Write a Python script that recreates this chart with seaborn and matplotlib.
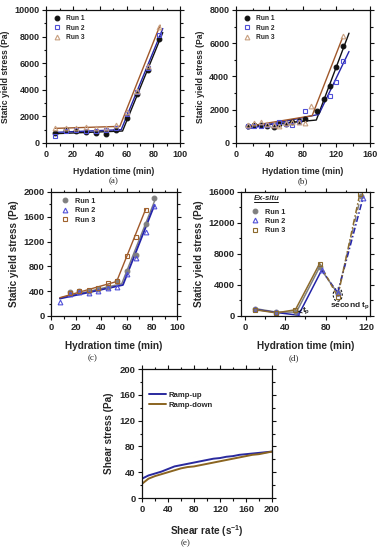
import matplotlib
matplotlib.use("Agg")
import matplotlib.pyplot as plt
from matplotlib.patches import Ellipse
from matplotlib.ticker import MultipleLocator
import seaborn as sns

# ---- panel (a) ----
a_x = [7, 15, 22, 30, 37, 45, 52, 60, 68, 76, 84]
a_run1 = [750, 1000, 900, 800, 750, 680, 1000, 1850, 3700, 5450, 7800]
a_run2 = [550, 900, 950, 900, 900, 950, 1100, 2200, 3800, 5600, 8100]
a_run3 = [1100, 1100, 1150, 1200, 1100, 1150, 1350, 2300, 3900, 5800, 8700]
a_fit1_x, a_fit1_y = [7, 57, 87], [700, 900, 8300]
a_fit2_x, a_fit2_y = [7, 56, 87], [800, 1000, 8600]
a_fit3_x, a_fit3_y = [7, 55, 85], [1100, 1250, 8850]

# ---- panel (b) ----
b_x1 = [14, 22, 30, 37, 45, 52, 60, 67, 75, 82, 97, 105, 112, 120, 128]
b_run1 = [1050, 1100, 1100, 1050, 980, 1150, 1150, 1280, 1350, 1450, 1950, 2650, 3450, 4550, 5850]
b_x2 = [14, 22, 30, 37, 45, 52, 60, 67, 75, 82, 112, 120, 128]
b_run2 = [1050, 1000, 1050, 1100, 1100, 1250, 1150, 1060, 1250, 1900, 2800, 3650, 4900]
b_x3 = [14, 22, 30, 37, 45, 52, 60, 67, 75, 82, 90, 128]
b_run3 = [1100, 1200, 1250, 1150, 1100, 1000, 1200, 1250, 1250, 1200, 2250, 6450]
b_fit1_x, b_fit1_y = [14, 96, 135], [1000, 1380, 6600]
b_fit2_x, b_fit2_y = [14, 99, 135], [850, 1720, 5500]
b_fit3_x, b_fit3_y = [14, 91, 127], [1000, 1640, 6300]

# ---- panel (c) ----
c_x1 = [15, 22, 30, 37, 45, 52, 60, 67, 75, 82]
c_run1 = [380, 400, 410, 430, 460, 570, 730, 980, 1480, 1910]
c_x2 = [7, 15, 22, 30, 37, 45, 52, 60, 67, 75, 82]
c_run2 = [230, 350, 390, 365, 410, 445, 475, 670, 935, 1350, 1780]
c_x3 = [15, 22, 30, 37, 45, 52, 60, 67, 75]
c_run3 = [370, 400, 420, 455, 530, 570, 970, 1270, 1710]
c_fit1_x, c_fit1_y = [7, 56, 82], [290, 520, 1850]
c_fit2_x, c_fit2_y = [7, 57, 82], [280, 500, 1790]
c_fit3_x, c_fit3_y = [7, 52, 75], [295, 555, 1720]

# ---- panel (d) ----
d_x1 = [10, 31, 51, 74, 92, 115]
d_run1 = [950, 500, 500, 6300, 2900, 15500]
d_x2 = [10, 31, 53, 76, 92, 117]
d_run2 = [850, 450, 100, 5900, 3000, 15200]
d_x3 = [10, 31, 50, 74, 92, 114]
d_run3 = [800, 400, 800, 6750, 2500, 15800]

# ---- panel (e) ----
e_rate = [0, 10, 20, 30, 40, 50, 60, 70, 80, 90, 100, 110, 120, 130, 140, 150, 160, 170, 180, 190, 200]
e_up = [30, 35, 38, 41, 45, 49, 51, 53, 55, 57, 59, 61, 62, 64, 65, 67, 68, 69, 70, 71, 72]
e_down = [22, 30, 34, 37, 40, 43, 46, 48, 49, 51, 53, 55, 57, 59, 61, 63, 65, 67, 68, 70, 72]

BLACK = "#111111"
GRAY = "#7f7f7f"
BLUE_M = "#5050d8"
BLUE_L = "#2424a8"
TAN_M = "#c8a080"
BROWN_L = "#a0582a"
BROWN_M = "#a0622e"
OLIVE = "#8c6a2c"

sns.set_style("ticks")
plt.rcParams["font.family"] = ["Liberation Sans", "DejaVu Sans"]
plt.rcParams["font.weight"] = "bold"
plt.rcParams["axes.labelweight"] = "bold"
plt.rcParams["mathtext.fontset"] = "custom"
plt.rcParams["mathtext.rm"] = "Liberation Sans:bold"
plt.rcParams["mathtext.bf"] = "Liberation Sans:bold"
plt.rcParams["mathtext.it"] = "Liberation Sans:bold"

fig = plt.figure(figsize=(3.81, 5.5), dpi=100)


def style_ax(ax, xlim, ylim, xmaj, xmin, ymaj, ymin, fs):
    ax.set_xlim(*xlim)
    ax.set_ylim(*ylim)
    ax.xaxis.set_major_locator(MultipleLocator(xmaj))
    ax.xaxis.set_minor_locator(MultipleLocator(xmin))
    ax.yaxis.set_major_locator(MultipleLocator(ymaj))
    ax.yaxis.set_minor_locator(MultipleLocator(ymin))
    ax.tick_params(which="both", direction="out", top=True, right=True,
                   labelsize=fs, width=0.8, pad=1.5, color=BLACK)
    ax.tick_params(which="major", length=3.2)
    ax.tick_params(which="minor", length=1.8)
    for s in ax.spines.values():
        s.set_linewidth(0.9)
        s.set_color(BLACK)
        s.set_visible(True)
    for lab in ax.get_xticklabels() + ax.get_yticklabels():
        lab.set_fontweight("bold")


def points(ax, x, y, marker, color, label, filled=False, ms=3.4):
    sns.lineplot(x=x, y=y, ax=ax, marker=marker, linestyle="", color=color,
                 mfc=color if filled else "none", mec=color, mew=0.8,
                 markersize=ms, label=label, sort=False, estimator=None)


def fit(ax, x, y, color, lw=1.0, ls="-"):
    sns.lineplot(x=x, y=y, ax=ax, color=color, linewidth=lw, linestyle=ls,
                 sort=False, estimator=None)


def small_legend(ax, fs, anchor):
    leg = ax.legend(loc="upper left", bbox_to_anchor=anchor, frameon=False,
                    fontsize=fs, handlelength=1.2, handletextpad=0.8,
                    labelspacing=0.35, borderaxespad=0.2)
    return leg


# (a)
ax_a = fig.add_axes([0.121, 0.74, 0.352, 0.242])
fit(ax_a, a_fit1_x, a_fit1_y, BLACK)
fit(ax_a, a_fit2_x, a_fit2_y, BLUE_L)
fit(ax_a, a_fit3_x, a_fit3_y, BROWN_L)
points(ax_a, a_x, a_run1, "o", BLACK, "Run 1", filled=True)
points(ax_a, a_x, a_run2, "s", BLUE_M, "Run 2")
points(ax_a, a_x, a_run3, "^", TAN_M, "Run 3")
style_ax(ax_a, (0, 100), (0, 10000), 20, 10, 2000, 1000, 6.5)
ax_a.set_xlabel("Hydation time (min)", fontsize=6.2, labelpad=6)
ax_a.set_ylabel("Static yield stress (Pa)", fontsize=6.2, labelpad=3)
small_legend(ax_a, 4.8, (0.02, 0.99))

# (b)
ax_b = fig.add_axes([0.619, 0.74, 0.352, 0.242])
fit(ax_b, b_fit1_x, b_fit1_y, BLACK)
fit(ax_b, b_fit2_x, b_fit2_y, BLUE_L)
fit(ax_b, b_fit3_x, b_fit3_y, BROWN_L)
points(ax_b, b_x1, b_run1, "o", BLACK, "Run 1", filled=True)
points(ax_b, b_x2, b_run2, "s", BLUE_M, "Run 2")
points(ax_b, b_x3, b_run3, "^", TAN_M, "Run 3")
style_ax(ax_b, (0, 160), (0, 8000), 40, 20, 2000, 1000, 6.5)
ax_b.set_xlabel("Hydation time (min)", fontsize=6.2, labelpad=6)
ax_b.set_ylabel("Static yield stress (Pa)", fontsize=6.2, labelpad=3)
small_legend(ax_b, 4.8, (0.02, 0.99))

# (c)
ax_c = fig.add_axes([0.134, 0.4255, 0.331, 0.2255])
fit(ax_c, c_fit1_x, c_fit1_y, GRAY)
fit(ax_c, c_fit2_x, c_fit2_y, BLUE_L, lw=1.3)
fit(ax_c, c_fit3_x, c_fit3_y, BROWN_L)
points(ax_c, c_x1, c_run1, "o", GRAY, "Run 1", filled=True)
points(ax_c, c_x2, c_run2, "^", BLUE_M, "Run 2")
points(ax_c, c_x3, c_run3, "s", BROWN_M, "Run 3")
style_ax(ax_c, (0, 100), (0, 2000), 20, 10, 400, 200, 6.8)
ax_c.set_xlabel("Hydration time (min)", fontsize=7.2, labelpad=7)
ax_c.set_ylabel("Static yield stress (Pa)", fontsize=7.2, labelpad=3)
small_legend(ax_c, 5.2, (0.04, 0.99))

# (d)
ax_d = fig.add_axes([0.6325, 0.4255, 0.3386, 0.2255])
d_sets = [(d_x1, d_run1, "o", GRAY, "Run 1", True),
          (d_x2, d_run2, "^", BLUE_M, "Run 2", False),
          (d_x3, d_run3, "s", OLIVE, "Run 3", False)]
line_cols = [GRAY, BLUE_L, OLIVE]
for (x, y, m, c, lab, filled), lc in zip(d_sets, line_cols):
    fit(ax_d, x[:4], y[:4], lc, lw=1.1)
    fit(ax_d, x[3:5], y[3:5], lc, lw=1.1, ls=(0, (3, 2)))
    fit(ax_d, x[4:], y[4:], lc, lw=1.1, ls=(0, (4, 1.5, 1, 1.5)))
for x, y, m, c, lab, filled in d_sets:
    points(ax_d, x, y, m, c, lab, filled=filled)
style_ax(ax_d, (-4, 124), (0, 16000), 40, 20, 4000, 2000, 6.8)
ax_d.set_xlabel("Hydration time (min)", fontsize=7.2, labelpad=7)
ax_d.set_ylabel("Static yield stress (Pa)", fontsize=7.2, labelpad=3)
ax_d.legend(loc="upper left", bbox_to_anchor=(0.05, 0.90), frameon=False,
            fontsize=5.2, handlelength=1.0, handletextpad=0.8,
            labelspacing=0.3, borderaxespad=0.2)
ax_d.text(0.1, 0.95, "Ex-situ", transform=ax_d.transAxes, fontsize=5.6,
          fontweight="bold", va="center", ha="left", fontstyle="italic")
ax_d.plot([0.1, 0.285], [0.915, 0.915], transform=ax_d.transAxes,
          color=BLACK, lw=0.7)
ax_d.annotate(r"$\mathbf{t_p}$", xy=(51, 500), xytext=(57, 700),
              fontsize=6, fontweight="bold", va="center",
              arrowprops=dict(arrowstyle="->", lw=0.6, color=BLACK,
                              shrinkA=0, shrinkB=1))
ax_d.add_patch(Ellipse((92, 2750), 9, 1700, fill=False, ls=(0, (2, 1.5)),
                       lw=0.8, ec=BLACK))
ax_d.text(104, 1400, r"second $\mathbf{t_p}$", fontsize=6, fontweight="bold",
          ha="center", va="center")

# (e)
ax_e = fig.add_axes([0.3727, 0.0945, 0.341, 0.2345])
sns.lineplot(x=e_rate, y=e_up, ax=ax_e, color="#2a2a9e", linewidth=1.4,
             label="Ramp-up", sort=False, estimator=None)
sns.lineplot(x=e_rate, y=e_down, ax=ax_e, color="#8a6420", linewidth=1.4,
             label="Ramp-down", sort=False, estimator=None)
style_ax(ax_e, (0, 200), (0, 200), 40, 20, 40, 20, 6.8)
ax_e.set_xlabel(r"Shear rate (s$^{\mathbf{-1}}$)", fontsize=7.2, labelpad=7)
ax_e.set_ylabel("Shear stress (Pa)", fontsize=7.2, labelpad=4)
ax_e.legend(loc="upper left", bbox_to_anchor=(0.02, 0.86), frameon=False,
            fontsize=5.6, handlelength=2.2, handletextpad=0.3,
            labelspacing=0.3, borderaxespad=0.2)

# captions
for txt, x, y in [("(a)", 0.297, 0.671), ("(b)", 0.795, 0.671),
                  ("(c)", 0.242, 0.349), ("(d)", 0.772, 0.349),
                  ("(e)", 0.488, 0.013)]:
    fig.text(x, y, txt, fontsize=6.5, ha="center", va="center",
             family=["Liberation Serif", "DejaVu Serif"], fontweight="normal")

fig.savefig("out.png", dpi=100)
